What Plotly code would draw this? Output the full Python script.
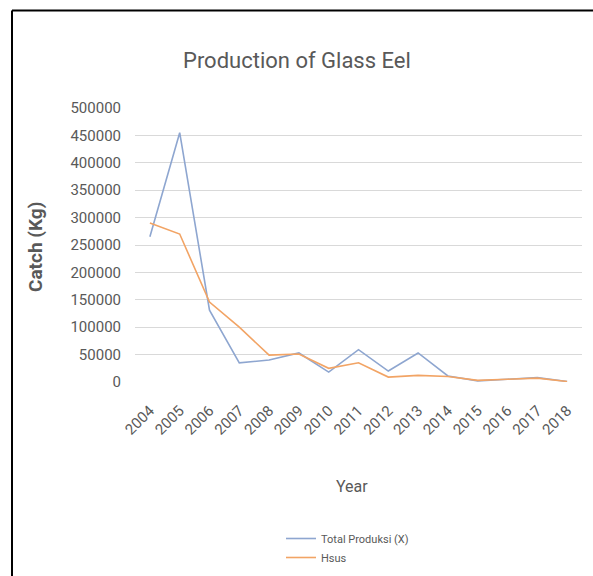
import plotly.graph_objects as go

# Annual glass eel catch, 2004-2018
years = ["2004", "2005", "2006", "2007", "2008", "2009", "2010", "2011",
         "2012", "2013", "2014", "2015", "2016", "2017", "2018"]
total_produksi = [265000, 455000, 131000, 35000, 40000, 53000, 18000, 59000,
                  20000, 53000, 11000, 2000, 5000, 8000, 1000]
hsus = [290000, 270000, 146000, 100000, 49000, 51000, 25000, 35000,
        9000, 12000, 10000, 3000, 5000, 7000, 1000]
y_ticks = [0, 50000, 100000, 150000, 200000, 250000, 300000, 350000,
           400000, 450000, 500000]

FONT = "Roboto, sans-serif"
GREY = "#595959"

fig = go.Figure()
fig.add_trace(go.Scatter(x=years, y=total_produksi, mode="lines",
                         name="Total Produksi (X)",
                         line=dict(color="#8EA6D0", width=1.6)))
fig.add_trace(go.Scatter(x=years, y=hsus, mode="lines", name="Hsus",
                         line=dict(color="#F2A465", width=1.6)))

# plot-area geometry in pixels, used to place the frame and labels
W, H = 593, 576
L, R, T, B = 135, 11, 108, 194
pw, ph = W - L - R, H - T - B

def px(x):
    return (x - L) / pw

def py(y):
    return (H - B - y) / ph

fig.update_layout(
    width=W, height=H,
    margin=dict(l=L, r=R, t=T, b=B, autoexpand=False),
    paper_bgcolor="white", plot_bgcolor="white",
    font=dict(family=FONT, color=GREY),
    showlegend=True,
    legend=dict(orientation="v", x=px(281), y=py(524), xanchor="left",
                yanchor="top", font=dict(size=11, color=GREY),
                bgcolor="rgba(0,0,0,0)", tracegroupgap=0),
    xaxis=dict(type="category", tickangle=-45, showgrid=False,
               showline=False, ticks="", tickfont=dict(size=15, color=GREY),
               ticklabelstandoff=16, automargin=False,
               range=[-0.5, len(years) - 0.5]),
    yaxis=dict(range=[0, 500000], tickvals=y_ticks,
               ticktext=[str(v) for v in y_ticks],
               showgrid=True, gridcolor="#D9D9D9", gridwidth=1.2,
               zeroline=False, showline=False, ticks="",
               ticklabelstandoff=13, automargin=False,
               tickfont=dict(size=15, color=GREY)),
    annotations=[
        dict(text="Production of Glass Eel", x=px(297), y=py(60),
             xref="paper", yref="paper", showarrow=False,
             xanchor="center", yanchor="middle",
             font=dict(size=22, color=GREY, family=FONT)),
        dict(text="<b>Catch (Kg)</b>", x=px(35), y=py(247), xref="paper",
             yref="paper", textangle=-90, showarrow=False,
             xanchor="center", yanchor="middle",
             font=dict(size=19, color=GREY, family=FONT)),
        dict(text="Year", x=px(352), y=py(486), xref="paper", yref="paper",
             showarrow=False, xanchor="center", yanchor="middle",
             font=dict(size=16, color=GREY, family=FONT)),
    ],
    shapes=[
        dict(type="line", xref="paper", yref="paper",
             x0=px(12), x1=px(12), y0=py(600), y1=py(10.5),
             line=dict(color="black", width=2)),
        dict(type="line", xref="paper", yref="paper",
             x0=px(12), x1=px(600), y0=py(10.5), y1=py(10.5),
             line=dict(color="black", width=2)),
    ],
)

fig.write_html("out.html")
